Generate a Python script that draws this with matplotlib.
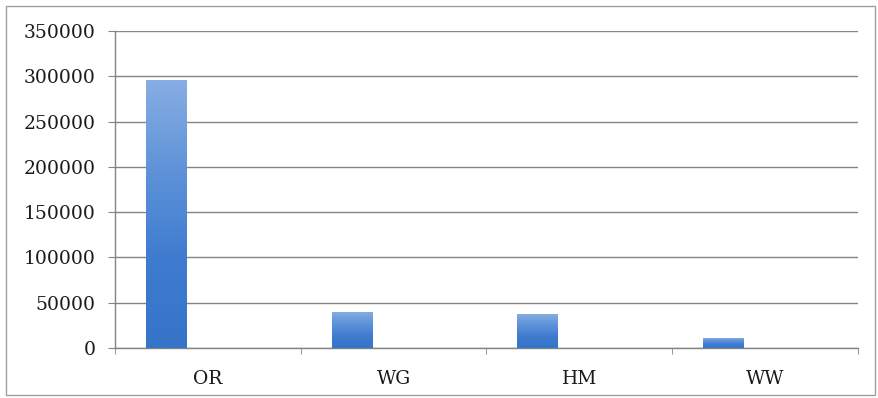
import numpy as np
import matplotlib.pyplot as plt
from matplotlib.patches import Rectangle
from matplotlib.colors import LinearSegmentedColormap

categories = ['OR', 'WG', 'HM', 'WW']
values = [296000, 40000, 38000, 11500]
yticks = [0, 50000, 100000, 150000, 200000, 250000, 300000, 350000]

fig = plt.figure(figsize=(8.79, 3.98), dpi=100)
ax = fig.add_axes([0.1308, 0.1256, 0.976 - 0.1308, 0.922 - 0.1256])

# outer frame of the picture
fig.patches.append(Rectangle((0.007, 0.008), 0.988, 0.977, transform=fig.transFigure,
                             fill=False, edgecolor='#a0a0a0', linewidth=1.0))

x = np.arange(len(categories))
offset = -0.223
width = 0.22

# gradient: lighter at top, darker at bottom (per bar)
cmap = LinearSegmentedColormap.from_list('barblue', ['#3574c9', '#3f7ccf', '#5f93d9', '#88aee3'])
grad = np.linspace(0, 1, 256).reshape(-1, 1)

bars = ax.bar(x + offset, values, width=width, color='#4a86d2', edgecolor='none', zorder=3)
for b in bars:
    x0, y0 = b.get_x(), b.get_y()
    w, h = b.get_width(), b.get_height()
    im = ax.imshow(grad, cmap=cmap, aspect='auto', origin='lower',
                   extent=[x0, x0 + w, y0, y0 + h], zorder=4)
    im.set_clip_path(b)

ax.set_xlim(-0.5, len(categories) - 0.5)
ax.set_ylim(0, 350000)
ax.set_yticks(yticks)
ax.set_yticklabels([str(v) for v in yticks])
ax.set_xticks(x)
ax.set_xticklabels(categories)
ax.set_xticks(np.arange(len(categories) + 1) - 0.5, minor=True)

ax.grid(axis='y', color='#848484', linewidth=1.0, zorder=0)
ax.set_axisbelow(True)
for s in ['top', 'right']:
    ax.spines[s].set_visible(False)
for s in ['left', 'bottom']:
    ax.spines[s].set_color('#848484')
    ax.spines[s].set_linewidth(1.0)

ax.tick_params(axis='y', length=5, color='#848484', pad=9,
               labelsize=13.5, labelcolor='#1a1a1a')
ax.tick_params(axis='x', which='major', length=0, pad=16,
               labelsize=13.5, labelcolor='#1a1a1a')
ax.tick_params(axis='x', which='minor', length=4, color='#848484')
for lab in ax.get_xticklabels() + ax.get_yticklabels():
    lab.set_family('DejaVu Serif')

fig.savefig('out.png', dpi=100)
